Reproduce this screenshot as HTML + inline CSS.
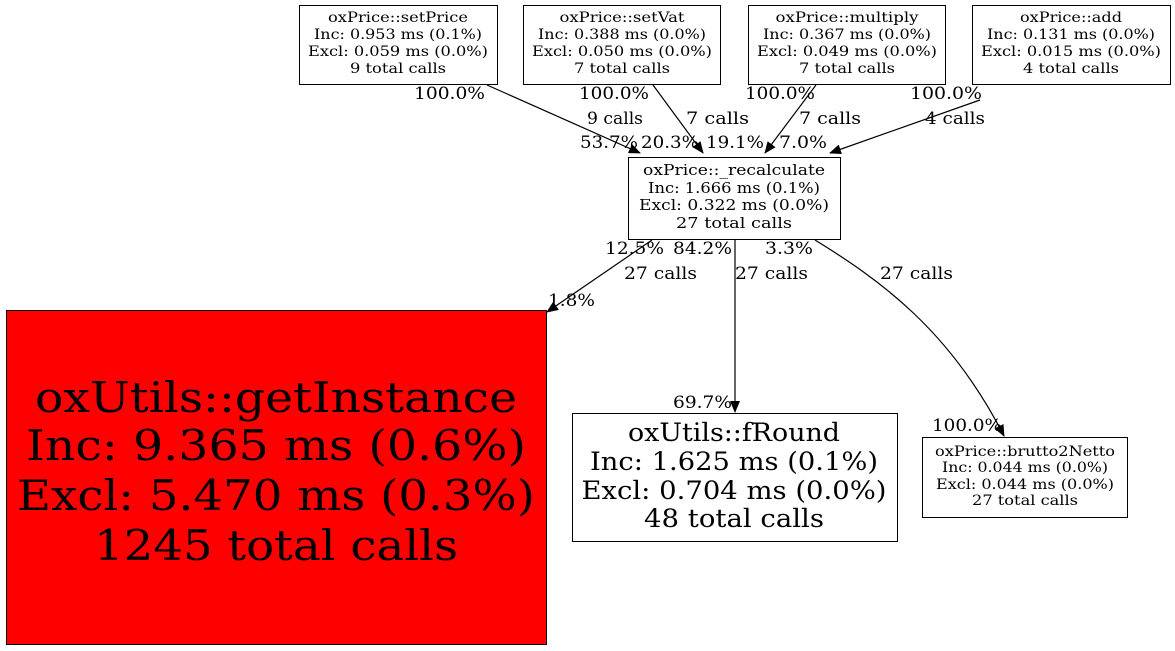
<!DOCTYPE html>
<html><head><meta charset="utf-8"><style>
html,body{margin:0;padding:0;background:#fff;}
svg{display:block;}
text{font-family:"DejaVu Serif","Liberation Serif",serif;fill:#000;}
.s{font-size:14px;text-anchor:middle;}
.e{font-size:17px;}
</style></head><body>
<svg width="1175" height="651" viewBox="0 0 1175 651" xmlns="http://www.w3.org/2000/svg">
<defs><marker id="a" markerWidth="12" markerHeight="10" refX="11" refY="5" orient="auto" markerUnits="userSpaceOnUse"><path d="M0,0 L12,5 L0,10 Z" fill="#000"/></marker></defs>
<g fill="none" stroke="#000" stroke-width="1.2">
<path d="M487,85 L640,153" marker-end="url(#a)"/>
<path d="M653,85 L703,153" marker-end="url(#a)"/>
<path d="M816,85 L765,153" marker-end="url(#a)"/>
<path d="M980,100 L830,153" marker-end="url(#a)"/>
<path d="M735,240 L735,412" marker-end="url(#a)"/>
<path d="M652,240 L547,312" marker-end="url(#a)"/>
<path d="M815,240 C880,280 950,330 1004,436" marker-end="url(#a)"/>
</g>
<g stroke="#000" stroke-width="1">
<rect x="299.5" y="5.5" width="198" height="79" fill="#fff"/>
<rect x="523.5" y="5.5" width="197" height="79" fill="#fff"/>
<rect x="748.5" y="5.5" width="197" height="79" fill="#fff"/>
<rect x="972.5" y="5.5" width="198" height="79" fill="#fff"/>
<rect x="628.5" y="157.5" width="212" height="82" fill="#fff"/>
<rect x="6.5" y="310.5" width="540" height="334" fill="#ff0000"/>
<rect x="572.5" y="413.5" width="325" height="128" fill="#fff"/>
<rect x="922.5" y="437.5" width="205" height="80" fill="#fff"/>
</g>
<g class="s" lengthAdjust="spacingAndGlyphs">
<text x="398" y="22" textLength="140" lengthAdjust="spacingAndGlyphs">oxPrice::setPrice</text>
<text x="398" y="39" textLength="168" lengthAdjust="spacingAndGlyphs">Inc: 0.953 ms (0.1%)</text>
<text x="398" y="56" textLength="180" lengthAdjust="spacingAndGlyphs">Excl: 0.059 ms (0.0%)</text>
<text x="398" y="73" textLength="96" lengthAdjust="spacingAndGlyphs">9 total calls</text>
<text x="622" y="22" textLength="125" lengthAdjust="spacingAndGlyphs">oxPrice::setVat</text>
<text x="622" y="39" textLength="168" lengthAdjust="spacingAndGlyphs">Inc: 0.388 ms (0.0%)</text>
<text x="622" y="56" textLength="180" lengthAdjust="spacingAndGlyphs">Excl: 0.050 ms (0.0%)</text>
<text x="622" y="73" textLength="96" lengthAdjust="spacingAndGlyphs">7 total calls</text>
<text x="847" y="22" textLength="143" lengthAdjust="spacingAndGlyphs">oxPrice::multiply</text>
<text x="847" y="39" textLength="168" lengthAdjust="spacingAndGlyphs">Inc: 0.367 ms (0.0%)</text>
<text x="847" y="56" textLength="180" lengthAdjust="spacingAndGlyphs">Excl: 0.049 ms (0.0%)</text>
<text x="847" y="73" textLength="96" lengthAdjust="spacingAndGlyphs">7 total calls</text>
<text x="1071" y="22" textLength="102" lengthAdjust="spacingAndGlyphs">oxPrice::add</text>
<text x="1071" y="39" textLength="168" lengthAdjust="spacingAndGlyphs">Inc: 0.131 ms (0.0%)</text>
<text x="1071" y="56" textLength="180" lengthAdjust="spacingAndGlyphs">Excl: 0.015 ms (0.0%)</text>
<text x="1071" y="73" textLength="96" lengthAdjust="spacingAndGlyphs">4 total calls</text>
<text x="1025" y="456" textLength="180" lengthAdjust="spacingAndGlyphs">oxPrice::brutto2Netto</text>
<text x="1025" y="472" textLength="166" lengthAdjust="spacingAndGlyphs">Inc: 0.044 ms (0.0%)</text>
<text x="1025" y="489" textLength="178" lengthAdjust="spacingAndGlyphs">Excl: 0.044 ms (0.0%)</text>
<text x="1025" y="505" textLength="106" lengthAdjust="spacingAndGlyphs">27 total calls</text>
</g>
<g style="font-size:15px;text-anchor:middle">
<text x="734" y="175" textLength="182" lengthAdjust="spacingAndGlyphs">oxPrice::_recalculate</text>
<text x="734" y="193" textLength="172" lengthAdjust="spacingAndGlyphs">Inc: 1.666 ms (0.1%)</text>
<text x="734" y="210" textLength="190" lengthAdjust="spacingAndGlyphs">Excl: 0.322 ms (0.0%)</text>
<text x="734" y="228" textLength="116" lengthAdjust="spacingAndGlyphs">27 total calls</text>
</g>
<g style="font-size:42px;text-anchor:middle">
<text x="276" y="412" textLength="482" lengthAdjust="spacingAndGlyphs">oxUtils::getInstance</text>
<text x="276" y="460" textLength="500" lengthAdjust="spacingAndGlyphs">Inc: 9.365 ms (0.6%)</text>
<text x="276" y="510" textLength="518" lengthAdjust="spacingAndGlyphs">Excl: 5.470 ms (0.3%)</text>
<text x="276" y="560" textLength="364" lengthAdjust="spacingAndGlyphs">1245 total calls</text>
</g>
<g style="font-size:25px;text-anchor:middle">
<text x="734" y="441" textLength="212" lengthAdjust="spacingAndGlyphs">oxUtils::fRound</text>
<text x="734" y="470" textLength="288" lengthAdjust="spacingAndGlyphs">Inc: 1.625 ms (0.1%)</text>
<text x="734" y="499" textLength="305" lengthAdjust="spacingAndGlyphs">Excl: 0.704 ms (0.0%)</text>
<text x="734" y="527" textLength="180" lengthAdjust="spacingAndGlyphs">48 total calls</text>
</g>
<g class="e">
<text x="414" y="99" textLength="71" lengthAdjust="spacingAndGlyphs">100.0%</text>
<text x="579" y="99" textLength="70" lengthAdjust="spacingAndGlyphs">100.0%</text>
<text x="745" y="99" textLength="70" lengthAdjust="spacingAndGlyphs">100.0%</text>
<text x="910" y="99" textLength="72" lengthAdjust="spacingAndGlyphs">100.0%</text>
<text x="587" y="124" textLength="56" lengthAdjust="spacingAndGlyphs">9 calls</text>
<text x="686" y="124" textLength="63" lengthAdjust="spacingAndGlyphs">7 calls</text>
<text x="799" y="124" textLength="62" lengthAdjust="spacingAndGlyphs">7 calls</text>
<text x="925" y="124" textLength="60" lengthAdjust="spacingAndGlyphs">4 calls</text>
<text x="580" y="148" textLength="58" lengthAdjust="spacingAndGlyphs">53.7%</text>
<text x="641" y="148" textLength="58" lengthAdjust="spacingAndGlyphs">20.3%</text>
<text x="706" y="148" textLength="58" lengthAdjust="spacingAndGlyphs">19.1%</text>
<text x="779" y="148" textLength="48" lengthAdjust="spacingAndGlyphs">7.0%</text>
<text x="605" y="254" textLength="59" lengthAdjust="spacingAndGlyphs">12.5%</text>
<text x="673" y="254" textLength="59" lengthAdjust="spacingAndGlyphs">84.2%</text>
<text x="765" y="254" textLength="48" lengthAdjust="spacingAndGlyphs">3.3%</text>
<text x="624" y="279" textLength="73" lengthAdjust="spacingAndGlyphs">27 calls</text>
<text x="735" y="279" textLength="73" lengthAdjust="spacingAndGlyphs">27 calls</text>
<text x="880" y="279" textLength="73" lengthAdjust="spacingAndGlyphs">27 calls</text>
<text x="548" y="306" textLength="47" lengthAdjust="spacingAndGlyphs">1.8%</text>
<text x="673" y="408" textLength="59" lengthAdjust="spacingAndGlyphs">69.7%</text>
<text x="932" y="431" textLength="70" lengthAdjust="spacingAndGlyphs">100.0%</text>
</g>
</svg>
</body></html>
